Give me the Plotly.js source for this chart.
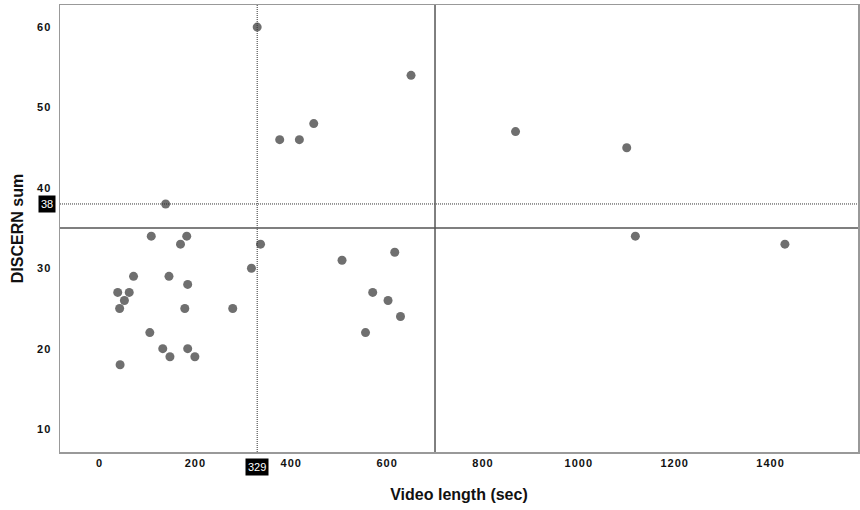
<!DOCTYPE html>
<html>
<head>
<meta charset="utf-8">
<script src="https://cdn.plot.ly/plotly-3.0.1.min.js"></script>
<style>
  html, body { margin: 0; padding: 0; background: #fff; }
  #chart { width: 860px; height: 510px; }
  .xtick text, .ytick text { letter-spacing: 1px; }
</style>
</head>
<body>
<div id="chart"></div>
<script>
// Video length (sec)
const videoLength = [
  329, 650, 376, 417, 447, 138, 868, 1100, 1118, 1430,
  108, 182, 169, 336, 317, 71, 145, 184, 38, 62,
  52, 42, 178, 278, 105, 132, 184, 147, 199, 43,
  506, 616, 570, 602, 628, 555
];
// DISCERN sum
const discernSum = [
  60, 54, 46, 46, 48, 38, 47, 45, 34, 33,
  34, 34, 33, 33, 30, 29, 29, 28, 27, 27,
  26, 25, 25, 25, 22, 20, 20, 19, 19, 18,
  31, 32, 27, 26, 24, 22
];
// reference lines
const medianLength = 329;
const medianDiscern = 38;
const cutLength = 700;
const cutDiscern = 35;

const xTicks = [0, 200, 400, 600, 800, 1000, 1200, 1400];
const yTicks = [10, 20, 30, 40, 50, 60];

const trace = {
  x: videoLength,
  y: discernSum,
  type: 'scatter',
  mode: 'markers',
  marker: { color: '#6f6f6f', size: 9 },
  hoverinfo: 'x+y'
};

const layout = {
  width: 860,
  height: 510,
  margin: { l: 60, r: 2, t: 5, b: 58 },
  paper_bgcolor: '#ffffff',
  plot_bgcolor: '#ffffff',
  showlegend: false,
  font: { family: 'Liberation Sans, Arial, sans-serif', color: '#111' },
  xaxis: {
    range: [-82.4, 1582.5],
    tickvals: xTicks,
    ticktext: xTicks.map(String),
    showgrid: false,
    zeroline: false,
    showline: true,
    mirror: true,
    linecolor: '#999',
    linewidth: 1.5,
    ticks: '',
    tickfont: { size: 11, family: 'Liberation Sans, Arial, sans-serif', weight: 'bold', color: '#111' },
    title: { text: '<b>Video length (sec)</b>', font: { size: 16, color: '#111' }, standoff: 21 }
  },
  yaxis: {
    range: [7.15, 62.75],
    tickvals: yTicks,
    ticktext: yTicks.map(String),
    showgrid: false,
    zeroline: false,
    showline: true,
    mirror: true,
    linecolor: '#999',
    linewidth: 1.5,
    ticks: '',
    ticklabelstandoff: 5,
    tickfont: { size: 11, family: 'Liberation Sans, Arial, sans-serif', weight: 'bold', color: '#111' },
    title: { text: '<b>DISCERN sum</b>', font: { size: 16, color: '#111' }, standoff: 9 }
  },
  shapes: [
    { type: 'line', xref: 'x', yref: 'paper', x0: medianLength, x1: medianLength, y0: 0, y1: 1,
      line: { color: '#333', width: 1, dash: '1px,1px' } },
    { type: 'line', xref: 'paper', yref: 'y', x0: 0, x1: 1, y0: medianDiscern, y1: medianDiscern,
      line: { color: '#333', width: 1, dash: '1px,1px' } },
    { type: 'line', xref: 'x', yref: 'paper', x0: cutLength, x1: cutLength, y0: 0, y1: 1,
      line: { color: '#555', width: 1.5 } },
    { type: 'line', xref: 'paper', yref: 'y', x0: 0, x1: 1, y0: cutDiscern, y1: cutDiscern,
      line: { color: '#555', width: 1.5 } }
  ],
  annotations: [
    { xref: 'paper', yref: 'y', x: 0, y: medianDiscern, xanchor: 'right', xshift: -4,
      text: String(medianDiscern), showarrow: false, bgcolor: '#000', borderpad: 2,
      font: { color: '#fff', size: 11, family: 'Liberation Sans, Arial, sans-serif' } },
    { xref: 'x', yref: 'paper', x: medianLength, y: 0, yanchor: 'top', yshift: -6,
      text: String(medianLength), showarrow: false, bgcolor: '#000', borderpad: 2,
      font: { color: '#fff', size: 11, family: 'Liberation Sans, Arial, sans-serif' } }
  ]
};

Plotly.newPlot('chart', [trace], layout, { displayModeBar: false, staticPlot: true });
</script>
</body>
</html>
